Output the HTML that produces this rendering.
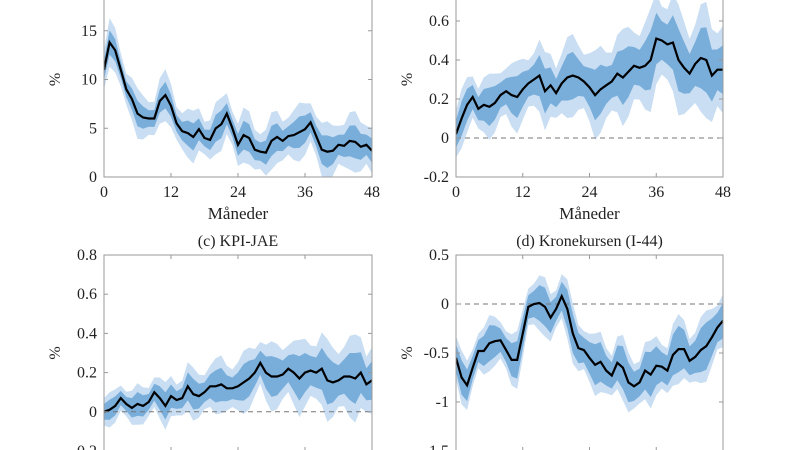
<!DOCTYPE html>
<html><head><meta charset="utf-8"><style>html,body{margin:0;background:#fff;width:800px;height:450px;overflow:hidden}svg{display:block}text{font-family:"Liberation Serif",serif;fill:#222}</style></head>
<body><svg id="s" width="800" height="450" xmlns="http://www.w3.org/2000/svg"></svg>
<script>
const S=document.getElementById('s');let h='';
function panel(x0,x1,yt,yb,ymin,ymax,ticks,data,inn,out,opts){
 const X=i=>x0+(x1-x0)*i/48, Y=v=>yb-(yb-yt)*(v-ymin)/(ymax-ymin);
 const n=data.length;
 const band=(w)=>{let up=[],dn=[];for(let i=0;i<n;i++){const f=i/48;const ww=w[0]+(w[1]-w[0])*f;const j=ww*(1+0.25*Math.sin(i*1.3));up.push(X(i).toFixed(1)+','+Y(data[i]+j).toFixed(1));dn.unshift(X(i).toFixed(1)+','+Y(data[i]-j).toFixed(1));}return up.concat(dn).join(' ');};
 h+=`<defs><clipPath id="c${x0}${yt}"><rect x="${x0}" y="${yt}" width="${x1-x0}" height="${yb-yt}"/></clipPath></defs><g clip-path="url(#c${x0}${yt})">`;
 h+=`<polygon points="${band(out)}" fill="#c9def2"/><polygon points="${band(inn)}" fill="#79aedb"/>`;
 if(opts.zero)h+=`<line x1="${x0}" x2="${x1}" y1="${Y(0)}" y2="${Y(0)}" stroke="#777" stroke-dasharray="5,4" stroke-width="1"/>`;
 h+=`<polyline points="${data.map((v,i)=>X(i).toFixed(1)+','+Y(v).toFixed(1)).join(' ')}" fill="none" stroke="#000" stroke-width="2.2"/></g>`;
 h+=`<rect x="${x0}" y="${yt}" width="${x1-x0}" height="${yb-yt}" fill="none" stroke="#999" stroke-width="1"/>`;
 for(const t of ticks){const y=Y(t);h+=`<line x1="${x0}" x2="${x0+4}" y1="${y}" y2="${y}" stroke="#999"/><line x1="${x1}" x2="${x1-4}" y1="${y}" y2="${y}" stroke="#999"/><text x="${x0-7}" y="${y+5}" font-size="16" text-anchor="end">${t}</text>`;}
 for(const m of [0,12,24,36,48]){const x=X(m);h+=`<line x1="${x}" x2="${x}" y1="${yb}" y2="${yb-4}" stroke="#999"/><line x1="${x}" x2="${x}" y1="${yt}" y2="${yt+4}" stroke="#999"/><text x="${x}" y="${yb+20}" font-size="16" text-anchor="middle">${m}</text>`;}
 h+=`<text x="${x0-44}" y="${(yt+yb)/2}" font-size="16" text-anchor="middle" transform="rotate(-90 ${x0-44} ${(yt+yb)/2})">%</text>`;
 h+=`<text x="${(x0+x1)/2}" y="${yb+42}" font-size="17" text-anchor="middle">Måneder</text>`;
 if(opts.title)h+=`<text x="${(x0+x1)/2}" y="${yt-9}" font-size="16" text-anchor="middle">${opts.title}</text>`;
}
const A=[11,13.8,13,11,9,8,6.5,6.1,6,6,7.8,8.4,7.3,5.5,4.7,4.5,4.1,4.9,4,3.8,5,5.4,6.5,5,3.3,4.3,4,2.8,2.6,2.5,3.7,4.1,3.7,4.2,4.3,4.6,4.9,5.6,4.2,2.8,2.6,2.7,3.3,3.2,3.7,3.6,3.1,3.3,2.7];
const B=[0.02,0.1,0.17,0.21,0.15,0.17,0.16,0.18,0.22,0.24,0.22,0.21,0.25,0.28,0.3,0.32,0.24,0.27,0.23,0.28,0.31,0.32,0.31,0.29,0.26,0.22,0.25,0.27,0.29,0.33,0.31,0.34,0.37,0.36,0.37,0.4,0.51,0.5,0.48,0.49,0.4,0.36,0.33,0.38,0.41,0.4,0.32,0.35,0.35];
const C=[0,0.01,0.03,0.07,0.04,0.02,0.04,0.03,0.05,0.1,0.07,0.03,0.08,0.06,0.07,0.13,0.09,0.08,0.1,0.13,0.13,0.14,0.12,0.12,0.13,0.15,0.17,0.2,0.25,0.2,0.18,0.18,0.19,0.22,0.2,0.17,0.2,0.21,0.2,0.22,0.16,0.15,0.16,0.18,0.18,0.17,0.2,0.14,0.16];
const D=[-0.55,-0.75,-0.83,-0.65,-0.48,-0.48,-0.4,-0.38,-0.37,-0.47,-0.57,-0.57,-0.3,-0.03,0,0.01,-0.03,-0.14,-0.05,0.08,-0.05,-0.3,-0.45,-0.47,-0.55,-0.62,-0.59,-0.68,-0.73,-0.6,-0.65,-0.8,-0.84,-0.8,-0.68,-0.72,-0.63,-0.64,-0.68,-0.52,-0.46,-0.46,-0.58,-0.54,-0.47,-0.43,-0.34,-0.24,-0.17];
panel(104,372,-18,177,0,20,[0,5,10,15],A,[1,1.4],[2,2.6],{});
panel(456,723,-18,177,-0.2,0.8,[-0.2,0,0.2,0.4,0.6],B,[0.07,0.14],[0.12,0.25],{zero:1});
panel(104,372,255,451,-0.2,0.8,[-0.2,0,0.2,0.4,0.6,0.8],C,[0.04,0.11],[0.07,0.19],{zero:1,title:"(c) KPI-JAE"});
panel(456,723,255,451,-1.5,0.5,[-1.5,-1,-0.5,0,0.5],D,[0.14,0.2],[0.22,0.3],{zero:1,title:"(d) Kronekursen (I-44)"});
S.innerHTML=h;
</script></body></html>
